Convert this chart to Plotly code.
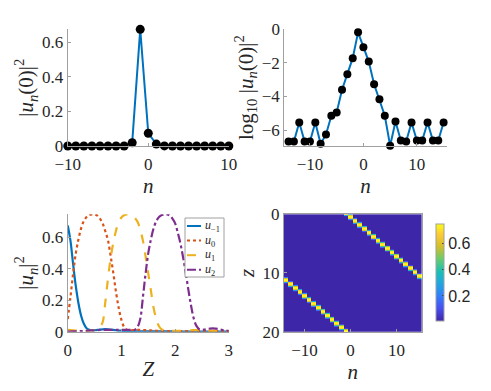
import numpy as np
import plotly.graph_objects as go

# ---- data ----
# top-left: |u_n(0)|^2, n = -10..10
n_lin = list(range(-10, 11))
u0_lin = [0, 0, 0, 0, 0, 0, 0, 0, 0.0186, 0.676, 0.074, 0.011,
          0.0005, 0.0001, 0, 0, 0, 0, 0, 0, 0]

# top-right: log10 |u_n(0)|^2, n = -14..15
n_log = list(range(-14, 16))
u0_log = [-6.68, -6.68, -5.55, -6.68, -6.68, -5.55, -6.81, -6.26, -5.15, -4.95,
          -3.60, -2.67, -1.72, -0.18, -1.07, -1.92, -3.27, -4.16, -5.15, -6.93,
          -5.49, -6.62, -6.68, -5.55, -6.62, -6.62, -5.55, -6.62, -6.62, -5.55]

# bottom-left: |u_n(Z)|^2 on Z = 0..3 (step 0.05)
Z = np.linspace(0, 3, 61)
u_m1 = [0.676, 0.58, 0.43, 0.29, 0.18, 0.10, 0.05, 0.022, 0.012, 0.009,
        0.009, 0.011, 0.013, 0.015, 0.016, 0.015, 0.013, 0.011, 0.009, 0.007,
        0.006, 0.005, 0.004, 0.003, 0.003, 0.002, 0.002, 0.002, 0.002, 0.002,
        0.002, 0.002, 0.002, 0.002, 0.002, 0.002, 0.002, 0.002, 0.002, 0.002,
        0.002, 0.001, 0.001, 0.001, 0.001, 0.001, 0.001, 0.001, 0.001, 0.001,
        0.001, 0.001, 0.001, 0.001, 0.001, 0.001, 0.001, 0.001, 0.001, 0.001,
        0.001]
u_0 = [0.08, 0.22, 0.37, 0.50, 0.59, 0.66, 0.705, 0.73, 0.743, 0.747,
       0.747, 0.74, 0.72, 0.69, 0.64, 0.58, 0.48, 0.37, 0.25, 0.15,
       0.075, 0.03, 0.013, 0.01, 0.01, 0.011, 0.012, 0.012, 0.011, 0.01,
       0.009, 0.008, 0.007, 0.006, 0.005, 0.005, 0.005, 0.004, 0.004, 0.004,
       0.004, 0.004, 0.004, 0.003, 0.003, 0.003, 0.003, 0.003, 0.003, 0.003,
       0.003, 0.003, 0.003, 0.003, 0.003, 0.003, 0.003, 0.003, 0.003, 0.003,
       0.003]
u_1 = [0.011, 0.01, 0.008, 0.007, 0.006, 0.005, 0.005, 0.005, 0.006, 0.008,
       0.01, 0.012, 0.03, 0.06, 0.19, 0.34, 0.47, 0.57, 0.645, 0.70,
       0.728, 0.742, 0.747, 0.747, 0.742, 0.725, 0.70, 0.65, 0.58, 0.48,
       0.37, 0.26, 0.15, 0.08, 0.035, 0.015, 0.008, 0.006, 0.005, 0.005,
       0.005, 0.005, 0.006, 0.006, 0.007, 0.008, 0.009, 0.01, 0.01, 0.01,
       0.009, 0.008, 0.007, 0.006, 0.005, 0.005, 0.004, 0.004, 0.004, 0.004,
       0.004]
u_2 = [0.001, 0.001, 0.002, 0.002, 0.003, 0.004, 0.005, 0.006, 0.007, 0.008,
       0.009, 0.01, 0.011, 0.012, 0.012, 0.012, 0.012, 0.012, 0.012, 0.011,
       0.011, 0.011, 0.011, 0.011, 0.011, 0.012, 0.03, 0.08, 0.22, 0.37,
       0.50, 0.59, 0.66, 0.705, 0.73, 0.743, 0.747, 0.747, 0.74, 0.72,
       0.69, 0.63, 0.56, 0.47, 0.37, 0.26, 0.16, 0.08, 0.035, 0.015,
       0.012, 0.014, 0.017, 0.02, 0.021, 0.02, 0.018, 0.014, 0.01, 0.007,
       0.005]

# bottom-right: intensity map over sites and propagation distance
n_map = list(range(-14, 16))
z_map = np.linspace(0, 20, 401)
hop_dz = 0.67          # distance for the pulse to move one site
first_peak_z = -0.18   # peak of site n = -1
pulse_offset = [-0.65, -0.55, -0.5, -0.45, -0.4, -0.35, -0.3, -0.25, -0.2, -0.15, -0.1, -0.05, 0,
                0.05, 0.1, 0.15, 0.2, 0.25, 0.3, 0.35, 0.4, 0.45, 0.5, 0.55, 0.65]
pulse_val = [0.003, 0.03, 0.08, 0.22, 0.37, 0.50, 0.59, 0.66, 0.705, 0.73, 0.743, 0.747, 0.747,
             0.74, 0.72, 0.69, 0.64, 0.58, 0.48, 0.37, 0.25, 0.15, 0.075, 0.03, 0.005]

period = hop_dz * len(n_map)
heat = np.zeros((len(z_map), len(n_map)))
for j, n in enumerate(n_map):
    t_n = first_peak_z + ((n + 1) % len(n_map)) * hop_dz
    for shift in (-period, 0, period):
        heat[:, j] += np.interp(z_map - t_n - shift, pulse_offset, pulse_val, left=0, right=0)
heat = np.maximum(heat, 0.002)

parula = [[0.0, 'rgb(62,38,168)'], [0.127, 'rgb(72,77,240)'], [0.254, 'rgb(50,124,252)'],
          [0.381, 'rgb(32,165,227)'], [0.508, 'rgb(25,191,182)'], [0.635, 'rgb(100,205,111)'],
          [0.762, 'rgb(209,191,39)'], [0.889, 'rgb(254,201,52)'], [1.0, 'rgb(249,251,21)']]

BLUE = '#0072BD'
SERIF = 'Liberation Serif'
AX = '#a0a0a0'
W, H = 491, 391

fig = go.Figure()

fig.add_trace(go.Scatter(x=n_lin, y=u0_lin, mode='lines+markers', xaxis='x', yaxis='y',
                         line=dict(color=BLUE, width=2), marker=dict(color='black', size=9),
                         cliponaxis=False, showlegend=False))
fig.add_trace(go.Scatter(x=n_log, y=u0_log, mode='lines+markers', xaxis='x2', yaxis='y2',
                         line=dict(color=BLUE, width=2), marker=dict(color='black', size=8),
                         cliponaxis=False, showlegend=False))

curves = [(u_m1, '<i>u</i><sub>−1</sub>', '#0072BD', 'solid'),
          (u_0, '<i>u</i><sub>0</sub>', '#D95319', 'dot'),
          (u_1, '<i>u</i><sub>1</sub>', '#EDB120', 'dash'),
          (u_2, '<i>u</i><sub>2</sub>', '#7E2F8E', 'dashdot')]
for vals, name, col, dash in curves:
    fig.add_trace(go.Scatter(x=Z, y=vals, mode='lines', name=name, xaxis='x3', yaxis='y3',
                             line=dict(color=col, width=2.2, dash=dash, shape='spline'),
                             cliponaxis=False, showlegend=False))

fig.add_trace(go.Heatmap(x=n_map, y=z_map, z=heat, xaxis='x4', yaxis='y4',
                         colorscale=parula, zmin=0.005, zmax=0.747, showlegend=False,
                         colorbar=dict(x=426 / W, xanchor='left', y=0.302, yanchor='middle',
                                       len=0.300, thickness=8, outlinecolor=AX, outlinewidth=1,
                                       tickvals=[0.2, 0.4, 0.6], ticks='inside', ticklen=2,
                                       tickfont=dict(family='Liberation Sans', size=16, color='#262626'))))

# small boxed legend for the bottom-left panel (MATLAB style, short samples)
lx0, lx1, ly0, ly1 = 185, 224, 218, 277
fig.add_shape(type='rect', xref='paper', yref='paper', x0=lx0 / W, x1=lx1 / W,
              y0=1 - ly1 / H, y1=1 - ly0 / H, line=dict(color=AX, width=1), fillcolor='white', layer='above')
for k, (vals, name, col, dash) in enumerate(curves):
    yy = 1 - (226 + 14.6 * k) / H
    fig.add_shape(type='line', xref='paper', yref='paper', x0=187 / W, x1=201 / W, y0=yy, y1=yy,
                  line=dict(color=col, width=2, dash=dash), layer='above')
    fig.add_annotation(xref='paper', yref='paper', x=203 / W, y=yy, text=name, showarrow=False,
                       xanchor='left', yanchor='middle', font=dict(family=SERIF, size=12, color='#262626'))

tick_font = dict(family=SERIF, size=17, color='#262626')
title_font = dict(family=SERIF, size=21, color='#262626')


def axis(domain, rng, tickvals, title, anchor, box=False, **kw):
    d = dict(domain=domain, range=rng, tickvals=tickvals, anchor=anchor, automargin=False,
             showgrid=False, zeroline=False, showline=True, linecolor=AX, linewidth=1,
             mirror=box, ticks='inside', ticklen=3, tickcolor=AX, tickfont=tick_font,
             title=dict(text=title, font=title_font, standoff=2))
    d.update(kw)
    return d


xd_l, xd_r, xd_h = [0.138, 0.466], [0.579, 0.910], [0.578, 0.859]
yd_t, yd_b = [0.6266, 0.925], [0.1517, 0.452]

fig.update_layout(
    width=W, height=H, margin=dict(l=0, r=0, t=0, b=0),
    paper_bgcolor='white', plot_bgcolor='white',
    xaxis=axis(xd_l, [-10, 10], [-10, 0, 10], '<i>n</i>', 'y', ticklabelstandoff=3),
    yaxis=axis(yd_t, [0, 0.676], [0, 0.2, 0.4, 0.6], '|<i>u<sub>n</sub></i>(0)|<sup>2</sup>', 'x'),
    xaxis2=axis(xd_r, [-14.8, 15.6], [-10, 0, 10], '<i>n</i>', 'y2', ticklabelstandoff=3),
    yaxis2=axis(yd_t, [-6.95, 0], [-6, -4, -2, 0], 'log<sub>10</sub> |<i>u<sub>n</sub></i>(0)|<sup>2</sup>', 'x2'),
    xaxis3=axis(xd_l, [0, 3], [0, 1, 2, 3], '<i>Z</i>', 'y3', ticklabelstandoff=3),
    yaxis3=axis(yd_b, [0, 0.748], [0, 0.2, 0.4, 0.6], '|<i>u<sub>n</sub></i>|<sup>2</sup>', 'x3'),
    xaxis4=axis(xd_h, [-14.5, 15.5], [-10, 0, 10], '<i>n</i>', 'y4', box=True, ticklabelstandoff=3),
    yaxis4=axis(yd_b, [20, 0], [0, 10, 20], '<i>z</i>', 'x4', box=True),
)

fig.write_html("out.html", config={'displayModeBar': False},
               post_script="document.body.style.margin='0';")
